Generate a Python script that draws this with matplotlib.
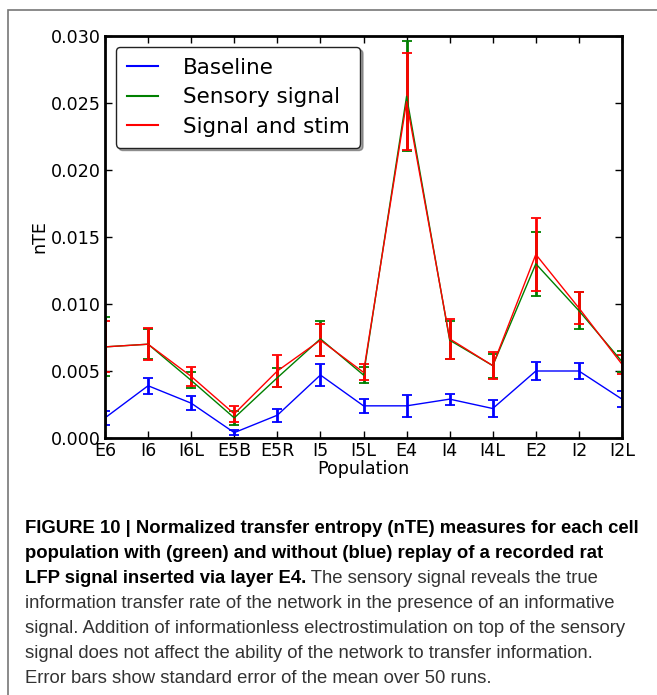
import numpy as np
import matplotlib
matplotlib.use("Agg")
import matplotlib.pyplot as plt
from matplotlib.patches import Rectangle
from matplotlib.lines import Line2D

populations = ['E6', 'I6', 'I6L', 'E5B', 'E5R', 'I5', 'I5L', 'E4', 'I4', 'I4L', 'E2', 'I2', 'I2L']

baseline = [0.0015, 0.0039, 0.0026, 0.0004, 0.0017, 0.0047, 0.0024, 0.0024, 0.0029, 0.0022, 0.0050, 0.0050, 0.0029]
baseline_err = [0.0005, 0.0006, 0.0005, 0.0002, 0.0005, 0.0008, 0.0005, 0.0008, 0.0004, 0.0006, 0.00065, 0.0006, 0.0006]

sensory = [0.0068, 0.0070, 0.0043, 0.0015, 0.0045, 0.0074, 0.0047, 0.0255, 0.0073, 0.0054, 0.0130, 0.0095, 0.0057]
sensory_err = [0.0022, 0.0011, 0.0006, 0.0005, 0.0007, 0.0013, 0.0006, 0.0041, 0.0014, 0.0009, 0.0024, 0.0014, 0.0008]

stim = [0.0068, 0.0070, 0.0046, 0.0018, 0.0050, 0.0073, 0.0049, 0.0251, 0.0074, 0.0054, 0.0137, 0.0097, 0.0055]
stim_err = [0.0019, 0.0012, 0.0007, 0.0006, 0.0012, 0.0012, 0.0006, 0.0036, 0.0015, 0.0010, 0.0027, 0.0012, 0.0007]

caption_bold = [
    "FIGURE 10 | Normalized transfer entropy (nTE) measures for each cell",
    "population with (green) and without (blue) replay of a recorded rat",
    "LFP signal inserted via layer E4.",
]
caption_rest = [
    " The sensory signal reveals the true",
    "information transfer rate of the network in the presence of an informative",
    "signal. Addition of informationless electrostimulation on top of the sensory",
    "signal does not affect the ability of the network to transfer information.",
    "Error bars show standard error of the mean over 50 runs.",
]

W, H = 657, 695
fig = plt.figure(figsize=(W / 100, H / 100), dpi=100)

# outer frame of the figure panel (right/bottom run off the page)
fig.patches.append(Rectangle((8 / W, -0.1), 1.2, 1 - 10 / H + 0.1, transform=fig.transFigure,
                             fill=False, edgecolor='#777777', linewidth=1.2))

ax = fig.add_axes([105 / W, 1 - 438 / H, 517 / W, 402 / H])
x = np.arange(len(populations))

series = [
    (baseline, baseline_err, 'b', 'Baseline'),
    (sensory, sensory_err, 'g', 'Sensory signal'),
    (stim, stim_err, 'r', 'Signal and stim'),
]
for vals, errs, col, lab in series:
    ax.errorbar(x, vals, yerr=errs, color=col, linewidth=1.0, elinewidth=2.0,
                capsize=3.5, capthick=1.3, label=lab)

ax.set_xlim(0, len(populations) - 1)
ax.set_ylim(0, 0.030)
ax.set_xticks(x)
ax.set_xticklabels(populations)
ax.set_yticks(np.arange(0, 0.0301, 0.005))
ax.set_yticklabels(['%.3f' % t for t in np.arange(0, 0.0301, 0.005)])
ax.tick_params(direction='in', length=5, width=1, top=True, right=True, labelsize=12.6, pad=3)
for sp in ax.spines.values():
    sp.set_linewidth(2)
ax.set_xlabel('Population', fontsize=12.6, labelpad=0)
ax.set_ylabel('nTE', fontsize=12.6, labelpad=2)

# legend shows plain line handles
handles = [Line2D([], [], color=c, linewidth=1.5) for _, _, c, _ in series]
leg = ax.legend(handles, [s[3] for s in series], loc='upper left', fontsize=15.5,
                bbox_to_anchor=(0.021, 0.973), borderaxespad=0, fancybox=True, shadow=True,
                handlelength=1.45, handletextpad=1.15, labelspacing=0.45, borderpad=0.5,
                framealpha=1)
leg.get_frame().set_edgecolor('#222222')

# caption
cap_font = ['Liberation Sans', 'DejaVu Sans']
cap_size = 13.3
x0 = 25 / W
baselines = [533, 558, 583, 608, 633, 658, 683]
texts = []
for i, line in enumerate(caption_bold):
    t = fig.text(x0, 1 - baselines[i] / H, line, fontsize=cap_size, fontweight='bold',
                 family=cap_font, color='black', va='baseline', ha='left')
    texts.append(t)

fig.canvas.draw()
renderer = fig.canvas.get_renderer()
bb = texts[2].get_window_extent(renderer)
fig.text(bb.x1 / W, 1 - baselines[2] / H, caption_rest[0], fontsize=cap_size,
         family=cap_font, color='#333333', va='baseline', ha='left')
for j, line in enumerate(caption_rest[1:]):
    fig.text(x0, 1 - baselines[3 + j] / H, line, fontsize=cap_size,
             family=cap_font, color='#333333', va='baseline', ha='left')

fig.savefig('out.png', dpi=100)
